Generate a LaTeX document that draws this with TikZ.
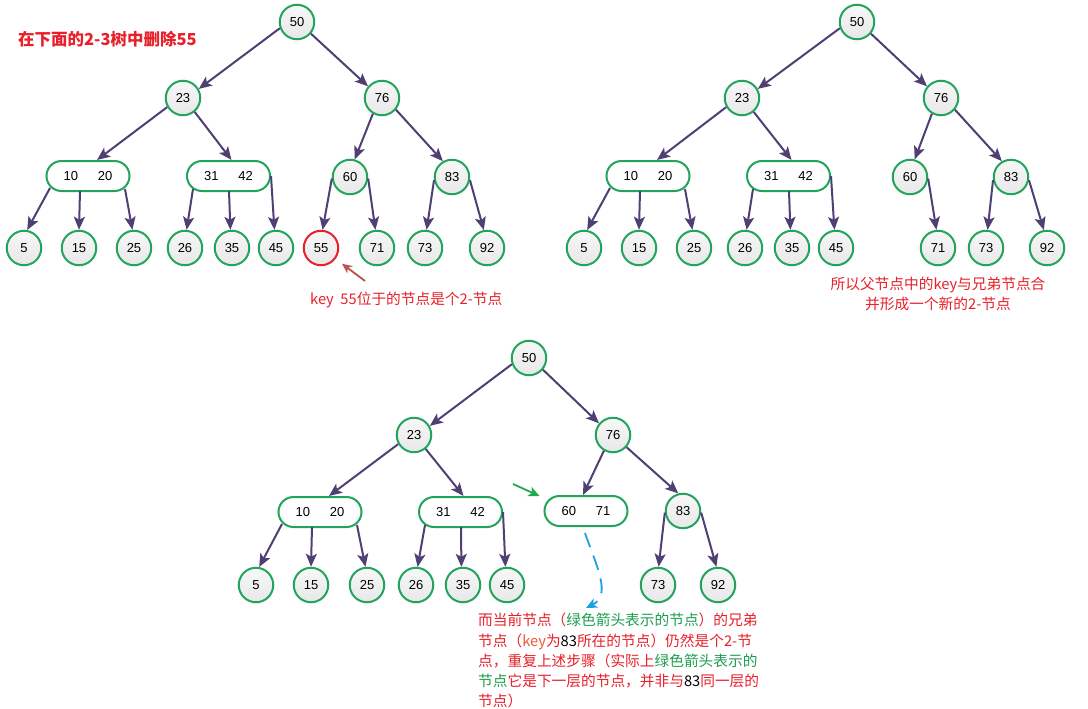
\documentclass[tikz,border=0pt]{standalone}
\usepackage{fontspec}
\usetikzlibrary{arrows.meta,calc}
\newfontfamily\cjk{Noto Sans CJK SC}
\newfontfamily\numfont{Liberation Sans}
\definecolor{ngreen}{HTML}{22A45D}
\definecolor{npurple}{HTML}{4F3F73}
\definecolor{nred}{HTML}{E8202A}
\definecolor{tgreen}{HTML}{1E9E50}
\definecolor{korange}{HTML}{E85A3C}
\definecolor{rarrow}{HTML}{C0504D}
\definecolor{nblue}{HTML}{1AA3E0}
\definecolor{garrow}{HTML}{1EAA50}
\tikzset{
  keynode/.style={circle, draw=ngreen, line width=2pt, minimum size=34.5pt, inner sep=0pt,
    top color=black!3, bottom color=black!9, font=\numfont\fontsize{13}{15}\selectfont},
  rednode/.style={keynode, draw=nred},
  pairnode/.style={rectangle, rounded corners=15pt, draw=ngreen, line width=2pt, fill=white,
    minimum width=83pt, minimum height=30pt, inner sep=0pt, font=\numfont\fontsize{13}{15}\selectfont},
  link/.style={draw=npurple, line width=2pt, -{Stealth[length=13pt,width=11pt,inset=3pt]}},
  note/.style={font=\cjk\fontsize{14.7}{20}\selectfont, text=nred, inner sep=0pt},
}
\newcommand{\twokeys}[2]{#1\hspace{20pt}#2\hspace{5pt}}
\begin{document}
\begin{tikzpicture}[x=1pt,y=-1pt]
\fill[white] (0,0) rectangle (1088,709);
\useasboundingbox (0,0) rectangle (1088,709);

% ---------------- tree 1 ----------------
\begin{scope}
\node[keynode] (a50) at (297,22) {50};
\node[keynode] (a23) at (183,98) {23};
\node[keynode] (a76) at (382,98) {76};
\node[pairnode] (ab1) at (88,176) {\twokeys{10}{20}};
\node[pairnode] (ab2) at (228.5,176) {\twokeys{31}{42}};
\node[keynode] (a60) at (350,177) {60};
\node[keynode] (a83) at (452,177) {83};
\node[keynode] (a5) at (24,248) {5};
\node[keynode] (a15) at (79,248) {15};
\node[keynode] (a25) at (134,248) {25};
\node[keynode] (a26) at (185,248) {26};
\node[keynode] (a35) at (232,248) {35};
\node[keynode] (a45) at (276,248) {45};
\node[rednode] (a55) at (321,248) {55};
\node[keynode] (a71) at (377,248) {71};
\node[keynode] (a73) at (425,248) {73};
\node[keynode] (a92) at (487,248) {92};
\draw[link] (a50.200) -- (a23.30);
\draw[link] (a50.-40) -- (a76.140);
\draw[link] (a23.210) -- ([xshift=9pt]ab1.north);
\draw[link] (a23.-50) -- ([xshift=3pt]ab2.north);
\draw[link] (a76.240) -- (a60.75);
\draw[link] (a76.-40) -- (a83.120);
\draw[link] ($(ab1.center)+(-38,12)$) -- (a5.80);
\draw[link] ($(ab1.center)+(-8,15)$) -- (a15.90);
\draw[link] ($(ab1.center)+(37,13)$) -- (a25.95);
\draw[link] ($(ab2.center)+(-35.5,13)$) -- (a26.85);
\draw[link] ($(ab2.center)+(0.5,15)$) -- (a35.95);
\draw[link] (ab2.east) -- (a45.95);
\draw[link] (a60.185) -- (a55.85);
\draw[link] (a60.-5) -- (a71.95);
\draw[link] (a83.190) -- (a73.85);
\draw[link] (a83.-10) -- (a92.100);
\end{scope}

% ---------------- tree 2 ----------------
\begin{scope}[shift={(560,0)}]
\node[keynode] (b50) at (297,22) {50};
\node[keynode] (b23) at (182,98) {23};
\node[keynode] (b76) at (381,98) {76};
\node[pairnode] (bb1) at (88,176) {\twokeys{10}{20}};
\node[pairnode] (bb2) at (228.5,176) {\twokeys{31}{42}};
\node[keynode] (b60) at (350,177) {60};
\node[keynode] (b83) at (451,177) {83};
\node[keynode] (b5) at (24,248) {5};
\node[keynode] (b15) at (79,248) {15};
\node[keynode] (b25) at (134,248) {25};
\node[keynode] (b26) at (185,248) {26};
\node[keynode] (b35) at (232,248) {35};
\node[keynode] (b45) at (276,248) {45};
\node[keynode] (b71) at (378,248) {71};
\node[keynode] (b73) at (426,248) {73};
\node[keynode] (b92) at (487,248) {92};
\draw[link] (b50.200) -- (b23.30);
\draw[link] (b50.-40) -- (b76.140);
\draw[link] (b23.210) -- ([xshift=9pt]bb1.north);
\draw[link] (b23.-50) -- ([xshift=3pt]bb2.north);
\draw[link] (b76.240) -- (b60.75);
\draw[link] (b76.-40) -- (b83.120);
\draw[link] ($(bb1.center)+(-38,12)$) -- (b5.80);
\draw[link] ($(bb1.center)+(-8,15)$) -- (b15.90);
\draw[link] ($(bb1.center)+(37,13)$) -- (b25.95);
\draw[link] ($(bb2.center)+(-35.5,13)$) -- (b26.85);
\draw[link] ($(bb2.center)+(0.5,15)$) -- (b35.95);
\draw[link] (bb2.east) -- (b45.95);
\draw[link] (b60.-5) -- (b71.95);
\draw[link] (b83.190) -- (b73.85);
\draw[link] (b83.-10) -- (b92.100);
\end{scope}

% ---------------- tree 3 ----------------
\begin{scope}[shift={(232,337)}]
\node[keynode] (c50) at (297,21) {50};
\node[keynode] (c23) at (182,98) {23};
\node[keynode] (c76) at (381,98) {76};
\node[pairnode] (cb1) at (88,175) {\twokeys{10}{20}};
\node[pairnode] (cb2) at (228.5,175) {\twokeys{31}{42}};
\node[pairnode] (cb3) at (354,174) {\twokeys{60}{71}};
\node[keynode] (c83) at (451,174) {83};
\node[keynode] (c5) at (24,248) {5};
\node[keynode] (c15) at (79,248) {15};
\node[keynode] (c25) at (135,248) {25};
\node[keynode] (c26) at (184,248) {26};
\node[keynode] (c35) at (231,248) {35};
\node[keynode] (c45) at (275,248) {45};
\node[keynode] (c73) at (426,248) {73};
\node[keynode] (c92) at (486,248) {92};
\draw[link] (c50.200) -- (c23.30);
\draw[link] (c50.-40) -- (c76.140);
\draw[link] (c23.210) -- ([xshift=9pt]cb1.north);
\draw[link] (c23.-50) -- ([xshift=3pt]cb2.north);
\draw[link] (c76.240) -- ([xshift=-3pt]cb3.north);
\draw[link] (c76.-42) -- (c83.105);
\draw[link] ($(cb1.center)+(-38,12)$) -- (c5.80);
\draw[link] ($(cb1.center)+(-8,15)$) -- (c15.90);
\draw[link] ($(cb1.center)+(37,13)$) -- (c25.95);
\draw[link] ($(cb2.center)+(-35.5,13)$) -- (c26.85);
\draw[link] ($(cb2.center)+(0.5,15)$) -- (c35.95);
\draw[link] (cb2.east) -- (c45.95);
\draw[link] (c83.185) -- (c73.88);
\draw[link] (c83.-5) -- (c92.95);
\coordinate (cs) at ($(cb3.south)+(-1,6)$);
\coordinate (ce) at (354,271);
\draw[draw=nblue, line width=1.8pt, dash pattern=on 15pt off 9pt, -{Stealth[length=11pt,width=10pt,inset=3pt]}]
  (cs) .. controls (364,228) and (380,258) .. (ce);
\end{scope}

% green arrow
\coordinate (g1) at (513,484);
\draw[draw=garrow, line width=1.8pt, -{Stealth[length=11pt,width=10pt,inset=3pt]}] (g1) -- ($(cb3.west)+(-4,-15)$);

% texts
\node[note, anchor=base west, font=\cjk\bfseries\fontsize{16.5}{20}\selectfont] (title) at (18,46) {在下面的2-3树中删除55};
\node[note, anchor=base west] (t1) at (310,304.5) {key\ \ 55位于的节点是个2-节点};
\coordinate (r1) at (365,281);
\draw[draw=rarrow, line width=1.8pt, shorten >=8pt, -{Stealth[length=10pt,width=9pt,inset=3pt]}] (r1) -- (a55);
\node[note, anchor=base] (t2a) at (938,289) {所以父节点中的key与兄弟节点合};
\node[note, anchor=base] (t2b) at (938,309.5) {并形成一个新的2-节点};
\node[note, anchor=base west] (l1) at (478,625.5) {而当前节点（\textcolor{tgreen}{绿色箭头表示的节点}）的兄弟};
\node[note, anchor=base west] (l2) at (478,646) {节点（\textcolor{korange}{key}为\textcolor{black}{83}所在的节点）仍然是个2-节};
\node[note, anchor=base west] (l3) at (478,666) {点，重复上述步骤（实际上\textcolor{tgreen}{绿色箭头表示的}};
\node[note, anchor=base west] (l4) at (478,686) {\textcolor{tgreen}{节点}它是下一层的节点，并非与\textcolor{black}{83}同一层的};
\node[note, anchor=base west] (l5) at (478,706) {节点）};
\end{tikzpicture}
\end{document}
